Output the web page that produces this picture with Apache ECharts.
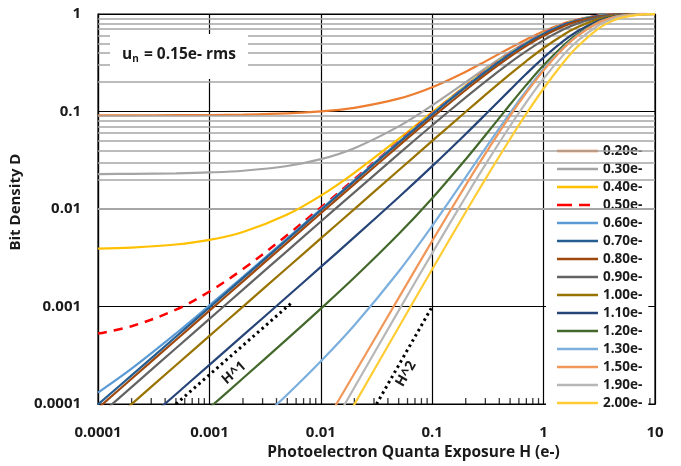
<!DOCTYPE html>
<html>
<head>
<meta charset="utf-8">
<script src="https://cdn.jsdelivr.net/npm/echarts@6/dist/echarts.min.js"></script>
<style>html,body{margin:0;padding:0;background:#fff}#c{width:681px;height:466px}</style>
</head>
<body>
<div id="c"></div>
<script>
// Exposure values H (e-)
const H = [0.0001,0.0002,0.0005,0.001,0.002,0.005,0.01,0.02,0.05,0.1,0.2,0.3,0.5,0.7,1,1.5,2,3,4,5,7,10];

// Bit density D for each threshold
const d020 = [0.0913,0.0914,0.0917,0.0921,0.0930,0.0957,0.1002,0.1092,0.1355,0.1777,0.2559,0.3267,0.4488,0.5487,0.6657,0.7972,0.8770,0.9548,0.9834,0.9939,0.99917,0.99996];
const d030 = [0.02285,0.02295,0.02324,0.02373,0.02470,0.02763,0.03247,0.04210,0.07040,0.1157,0.1999,0.2760,0.4073,0.5147,0.6405,0.7819,0.8677,0.9513,0.9821,0.99342,0.99911,0.99996];
const d040 = [0.003930,0.004029,0.004328,0.004826,0.005820,0.008799,0.01374,0.02355,0.05241,0.09863,0.1844,0.2620,0.3958,0.5053,0.6335,0.7777,0.8652,0.9504,0.98175,0.99329,0.99909,0.99995];
const d050 = [0.000529,0.000629,0.000929,0.001428,0.002425,0.005413,0.010371,0.02021,0.04916,0.09551,0.1815,0.2594,0.3936,0.5035,0.6321,0.7768,0.8646,0.9502,0.98166,0.99326,0.99909,0.99995];
const d060 = [0.0001313,0.0002309,0.0005296,0.0010272,0.002022,0.005000,0.009944,0.019757,0.04862,0.09484,0.1807,0.2584,0.3923,0.5021,0.6307,0.7756,0.8636,0.9496,0.9814,0.99313,0.99906,0.99995];
const d070 = [0.0000992,0.000197,0.00049,0.000978,0.001954,0.004876,0.009726,0.01936,0.04769,0.09311,0.1775,0.2541,0.3866,0.4955,0.6238,0.7693,0.8585,0.9468,0.9800,0.99250,0.99894,0.99994];
const d080 = [0.0000909,0.0001818,0.0004543,0.0009084,0.001816,0.004534,0.009047,0.018013,0.04443,0.08691,0.1663,0.2389,0.3658,0.4717,0.5986,0.7463,0.8400,0.9366,0.9750,0.99019,0.99851,0.99991];
const d090 = [0.00007475,0.0001495,0.0003737,0.0007473,0.001494,0.003731,0.007450,0.014851,0.03676,0.07232,0.1399,0.2031,0.3169,0.4156,0.5392,0.6924,0.7963,0.9125,0.9632,0.98476,0.99748,0.99984];
const d100 = [0.00005,0.0001,0.00025,0.0005,0.001,0.0025,0.0050,0.0100,0.02499,0.04992,0.0994,0.1481,0.2418,0.3296,0.4482,0.6095,0.7293,0.8755,0.9451,0.97642,0.99590,0.99973];
const d110 = [0.00002525,0.0000505,0.0001263,0.0002527,0.000506,0.0012686,0.0025496,0.0051473,0.013218,0.02753,0.05887,0.09305,0.1668,0.2436,0.3571,0.5267,0.6623,0.8386,0.9269,0.96808,0.99432,0.99962];
const d120 = [0.000009125,0.00001826,0.0000457,0.00009161,0.000184,0.0004662,0.0009526,0.0019852,0.0055467,0.012931,0.03246,0.0572,0.1179,0.1875,0.2978,0.4727,0.6187,0.8145,0.9151,0.96265,0.99329,0.99954];
const d130 = [0.00000228,0.00000457,0.0000115,0.00002323,0.0000474,0.0001256,0.0002749,0.0006433,0.0022911,0.0067374,0.021248,0.04199,0.0971,0.1637,0.2726,0.4498,0.6002,0.8042,0.9101,0.96034,0.99285,0.99951];
const d150 = [0.0000000479,0.000000106,0.000000339,0.00000093,0.00000286,0.00001459,0.00005389,0.00020567,0.001229,0.0047158,0.017586,0.037017,0.0903,0.1559,0.2643,0.4422,0.5940,0.8008,0.9084,0.95955,0.99270,0.9995];
const d190 = [3.74e-9,1.495e-8,9.34e-8,3.74e-7,1.495e-6,9.32e-6,3.717e-5,0.00014784,0.00090887,0.0035365,0.013388,0.028518,0.07106,0.1251,0.2178,0.3788,0.5257,0.7443,0.8714,0.9383,0.98706,0.99893];
const d200 = [2.5e-9,1e-8,6.25e-8,2.5e-7,1e-6,6.24e-6,2.492e-5,9.933e-5,0.00061458,0.0024168,0.0093357,0.020268,0.052296,0.094973,0.1723,0.3167,0.4587,0.6888,0.8352,0.9175,0.98153,0.99837];

const seriesNames = ['0.20e-','0.30e-','0.40e-','0.50e-','0.60e-','0.70e-','0.80e-','0.90e-','1.00e-','1.10e-','1.20e-','1.30e-','1.50e-','1.90e-','2.00e-'];
const seriesData = [d020,d030,d040,d050,d060,d070,d080,d090,d100,d110,d120,d130,d150,d190,d200];

// Reference slope lines
const h1X = [0.0005, 0.0055];
const h1Y = [0.0001, 0.0011];
const h2X = [0.0316, 0.1];
const h2Y = [0.0001, 0.001];

// Tick labels
const xTickLabels = ['0.0001','0.001','0.01','0.1','1','10'];
const yTickLabels = ['0.0001','0.001','0.01','0.1','1'];
const minorMult = [2,3,4,5,6,7,8,9];
const yDecades = [0.0001,0.001,0.01,0.1];
const xDecades = [0.0001,0.001,0.01,0.1,1];

const colors = ['#ED7D31','#A5A5A5','#FFC000','#FF0000','#5B9BD5','#255E91','#9E480E','#636363','#997300','#264478','#43682B','#7CAFDD','#F1975A','#B7B7B7','#FFCD33'];

const FONT = 'Open Sans';
const SOLID_ICON = 'path://M0,0H41V2.6H0Z';
const DASH_ICON = 'path://M0,0H15V2.8H0Z M22,0H33V2.8H22Z M40.98,1.3H41V1.32H40.98Z';

const yMinor = [];
yDecades.forEach(d => minorMult.forEach(m => yMinor.push(+(d*m).toPrecision(3))));
const xMinor = [];
xDecades.forEach(d => minorMult.forEach(m => xMinor.push(+(d*m).toPrecision(3))));

const series = [];
series.push({
  type: 'scatter', name: 'minor', z: 1, silent: true,
  data: xMinor.map(v => [v, 0.0001]),
  symbol: 'rect', symbolSize: [1.3, 6], symbolOffset: [0, -3],
  itemStyle: { color: '#000' },
  markLine: {
    silent: true, symbol: ['none','none'], label: { show: false },
    lineStyle: { color: '#A6A6A6', type: 'solid', width: 1.6 },
    data: yMinor.map(v => ({ yAxis: v }))
  }
});
seriesData.forEach((arr, i) => {
  series.push({
    type: 'line', name: seriesNames[i], z: 3 + i,
    data: H.map((h, j) => [h, arr[j]]),
    showSymbol: false, symbol: 'none', smooth: 0.35,
    lineStyle: { color: colors[i], width: i === 3 ? 2.5 : 2.2, type: i === 3 ? [9, 7] : 'solid' },
    itemStyle: { color: colors[i] }
  });
});
series.push({
  type: 'line', name: 'H1', z: 20, showSymbol: false, symbol: 'none',
  data: h1X.map((x, i) => [x, h1Y[i]]),
  lineStyle: { color: '#000', width: 3, type: [2.5, 3.5] }
});
series.push({
  type: 'line', name: 'H2', z: 20, showSymbol: false, symbol: 'none',
  data: h2X.map((x, i) => [x, h2Y[i]]),
  lineStyle: { color: '#000', width: 3, type: [2.5, 3.5] }
});

const chart = echarts.init(document.getElementById('c'));
chart.setOption({
  animation: false,
  backgroundColor: '#fff',
  textStyle: { fontFamily: FONT },
  grid: { left: 95, right: 26, top: 14, bottom: 58, show: true, borderColor: '#000', borderWidth: 1.2, backgroundColor: 'transparent' },
  legend: {
    data: seriesNames.map((n, i) => ({ name: n, icon: i === 3 ? DASH_ICON : SOLID_ICON })),
    orient: 'vertical', left: 546, top: 142,
    itemWidth: 41, itemHeight: 2.6, itemGap: 4, padding: [2, 6, 0, 11],
    symbolKeepAspect: false,
    backgroundColor: '#fff',
    textStyle: { fontFamily: FONT, fontSize: 13.5, fontWeight: 'bold', color: '#1a1a1a' }
  },
  xAxis: {
    type: 'log', logBase: 10, min: 0.0001, max: 10,
    name: 'Photoelectron Quanta Exposure H (e-)', nameLocation: 'middle', nameGap: 40,
    nameTextStyle: { fontFamily: FONT, fontSize: 15.5, fontWeight: 'bold', color: '#1a1a1a', padding: [0, 0, 0, 74] },
    axisLine: { show: true, lineStyle: { color: '#000', width: 1.2 } },
    axisTick: { show: false },
    axisLabel: { margin: 21, fontFamily: FONT, fontSize: 15, fontWeight: 'bold', color: '#1a1a1a',
      formatter: v => xTickLabels[Math.round(Math.log10(v)) + 4] },
    splitLine: { show: true, lineStyle: { color: '#000', width: 1.2 } }
  },
  yAxis: {
    type: 'log', logBase: 10, min: 0.0001, max: 1,
    name: 'Bit Density D', nameLocation: 'middle', nameGap: 66,
    nameTextStyle: { fontFamily: FONT, fontSize: 15, fontWeight: 'bold', color: '#1a1a1a', padding: [0, 0, 0, 14] },
    axisLine: { show: true, lineStyle: { color: '#000', width: 1.2 } },
    axisTick: { show: false },
    axisLabel: { margin: 17, fontFamily: FONT, fontSize: 15, fontWeight: 'bold', color: '#1a1a1a',
      formatter: v => yTickLabels[Math.round(Math.log10(v)) + 4] },
    splitLine: { show: true, lineStyle: { color: '#000', width: 1.2 } }
  },
  graphic: [
    { type: 'rect', z: 100, shape: { x: 110, y: 34, width: 138, height: 45 }, style: { fill: '#fff' } },
    { type: 'text', z: 101, x: 179, y: 55,
      style: {
        text: '{a|u}{b|n}{a| = 0.15e- rms}', align: 'center', verticalAlign: 'middle',
        rich: {
          a: { fontFamily: FONT, fontSize: 15.5, fontWeight: 'bold', fill: '#1a1a1a', lineHeight: 20, verticalAlign: 'middle' },
          b: { fontFamily: FONT, fontSize: 10, fontWeight: 'bold', fill: '#1a1a1a', lineHeight: 20, padding: [9, 1, 0, 0] }
        }
      } },
    { type: 'text', z: 101, x: 234, y: 373, rotation: 41 * Math.PI / 180,
      style: { text: 'H^1', align: 'center', verticalAlign: 'middle', fontFamily: FONT, fontSize: 14, fontWeight: 'bold', fill: '#1a1a1a' } },
    { type: 'text', z: 101, x: 406, y: 374, rotation: 60 * Math.PI / 180,
      style: { text: 'H^2', align: 'center', verticalAlign: 'middle', fontFamily: FONT, fontSize: 14, fontWeight: 'bold', fill: '#1a1a1a' } }
  ],
  series: series
});
</script>
</body>
</html>
